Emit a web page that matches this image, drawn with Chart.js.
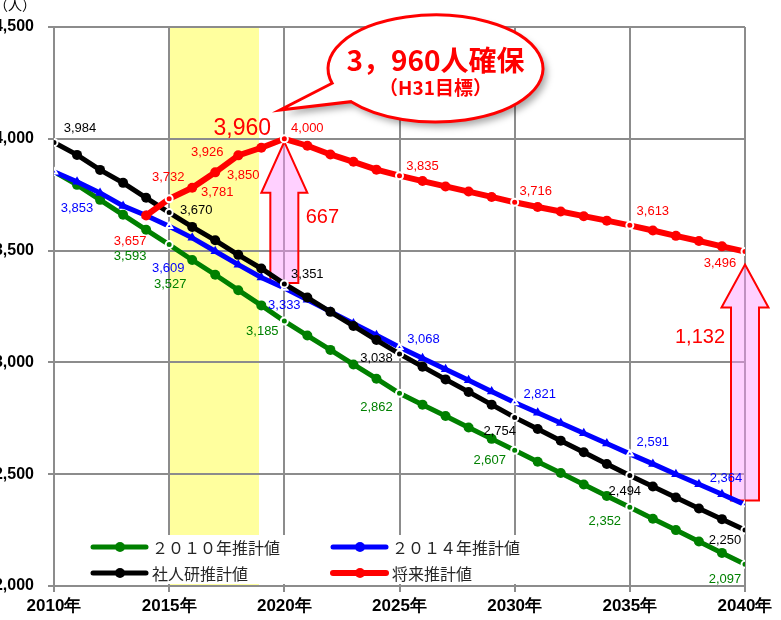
<!DOCTYPE html>
<html>
<head>
<meta charset="utf-8">
<script src="https://cdn.jsdelivr.net/npm/chart.js@4.4.1/dist/chart.umd.min.js"></script>
<style>
  html, body { margin: 0; padding: 0; background: #fff; }
  #wrap { position: relative; width: 781px; height: 620px; overflow: hidden; }
  #chart { position: absolute; left: -20px; top: 0; }
</style>
</head>
<body>
<div id="wrap"><canvas id="chart" width="801" height="620"></canvas></div>
<script>
// ---- data -------------------------------------------------------------
const years = [2010, 2011, 2012, 2013, 2014, 2015, 2016, 2017, 2018, 2019,
               2020, 2021, 2022, 2023, 2024, 2025, 2026, 2027, 2028, 2029,
               2030, 2031, 2032, 2033, 2034, 2035, 2036, 2037, 2038, 2039, 2040];

// 2010年推計値
const estimate2010 = [3853, 3794, 3727, 3660, 3593, 3527, 3458, 3392, 3323, 3255,
                      3185, 3120, 3056, 2991, 2927, 2862, 2811, 2760, 2709, 2658,
                      2607, 2556, 2505, 2454, 2403, 2352, 2301, 2250, 2199, 2148, 2097];
// 2014年推計値
const estimate2014 = [3853, 3808, 3758, 3700, 3657, 3609, 3557, 3497, 3437, 3380,
                      3333, 3280, 3227, 3174, 3121, 3068, 3019, 2969, 2920, 2870,
                      2821, 2775, 2729, 2683, 2637, 2591, 2546, 2500, 2455, 2410, 2364];
// 社人研推計値
const ipssEstimate = [3984, 3928, 3861, 3803, 3736, 3670, 3606, 3546, 3481, 3420,
                      3351, 3290, 3226, 3163, 3100, 3038, 2981, 2924, 2868, 2811,
                      2754, 2702, 2650, 2598, 2546, 2494, 2445, 2396, 2347, 2299, 2250];
// 将来推計値
const futureYears = [2014, 2015, 2016, 2017, 2018, 2019, 2020, 2021, 2022, 2023,
                     2024, 2025, 2026, 2027, 2028, 2029, 2030, 2031, 2032, 2033,
                     2034, 2035, 2036, 2037, 2038, 2039, 2040];
const futureEstimate = [3657, 3732, 3781, 3850, 3926, 3960, 4000, 3969, 3930, 3897,
                        3862, 3835, 3811, 3787, 3764, 3740, 3716, 3695, 3675, 3654,
                        3634, 3613, 3590, 3566, 3543, 3519, 3496];

const seriesNames = ['２０１０年推計値', '２０１４年推計値', '社人研推計値', '将来推計値'];
const yTicks = [2000, 2500, 3000, 3500, 4000, 4500];
const calloutLines = ['3，960人確保', '（H31目標）'];
const unitLabel = '（人）';

// ---- styling ----------------------------------------------------------
const SHIFT = 20;                 // canvas starts 20px left of the page edge
const P = v => v + SHIFT;         // page x -> canvas x
const GREEN = '#008000', BLUE = '#0000FF', BLACK = '#000000', RED = '#FF0000';
const GRID = '#8c8c8c';
const LATIN = "'Liberation Sans', Arial, sans-serif";
const CJK = "'Noto Sans CJK JP', 'Noto Sans', sans-serif";
const bandRange = [2015, 2018.9];
const fmt = n => n.toLocaleString('en-US');

// where each value label sits relative to its point: year -> [dx, dy(, size)]
const labelSpots = [
  { set: 3, color: GREEN, at: {2014: [-16, 27], 2015: [1, 40], 2020: [-22, 10], 2025: [-23, 14], 2030: [-25, 10], 2035: [-25, 14], 2040: [-20, 15]} },
  { set: 2, color: BLUE,  at: {2010: [23, 37], 2015: [-1, 42], 2020: [0, 17], 2025: [24, -8], 2030: [25, -8], 2035: [23, -11], 2040: [-19, -26]} },
  { set: 1, color: BLACK, at: {2010: [26, -14], 2015: [27, -2], 2020: [23, -9], 2025: [-23, 5], 2030: [-15, 14], 2035: [-5, 16], 2040: [-20, 10]} },
  { set: 0, color: RED,   at: {2014: [-16, 26], 2015: [-1, -21], 2016: [25, 5], 2017: [28, 3], 2018: [-31, -3], 2019: [-19, -19, 23],
                               2020: [23, -10], 2025: [23, -9], 2030: [21, -11], 2035: [23, -14], 2040: [-25, 12]} }
];

const pairs = (xs, ys) => xs.map((x, i) => ({ x, y: ys[i] }));
const isMilestone = ctx => ctx.raw && ctx.raw.x % 5 === 0;

function lineSet(label, data, color, width, shape) {
  return {
    label, data,
    borderColor: color, backgroundColor: color, borderWidth: width,
    tension: 0,
    pointStyle: shape,
    pointRadius: ctx => isMilestone(ctx) ? 3.5 : (shape === 'triangle' ? 5.5 : 5),
    pointBackgroundColor: color,
    pointBorderColor: ctx => isMilestone(ctx) ? '#ffffff' : color,
    pointBorderWidth: ctx => isMilestone(ctx) ? 2 : 0,
  };
}

function drawArrow(ctx, cx, tipY, bottomY, headLen, headHalf, shaftHalf) {
  ctx.beginPath();
  ctx.moveTo(cx, tipY);
  ctx.lineTo(cx + headHalf, tipY + headLen);
  ctx.lineTo(cx + shaftHalf, tipY + headLen);
  ctx.lineTo(cx + shaftHalf, bottomY);
  ctx.lineTo(cx - shaftHalf, bottomY);
  ctx.lineTo(cx - shaftHalf, tipY + headLen);
  ctx.lineTo(cx - headHalf, tipY + headLen);
  ctx.closePath();
  ctx.fillStyle = 'rgba(255, 150, 255, 0.45)';
  ctx.fill();
  ctx.strokeStyle = RED;
  ctx.lineWidth = 2;
  ctx.stroke();
}

const valueAt = (xs, ys, yr) => ys[xs.indexOf(yr)];

const decor = {
  id: 'decor',
  beforeDraw(chart) {
    const { ctx, chartArea: a, scales: { x } } = chart;
    ctx.save();
    ctx.fillStyle = '#ffffff';
    ctx.fillRect(0, 0, chart.width, chart.height);
    const x0 = x.getPixelForValue(bandRange[0]), x1 = x.getPixelForValue(bandRange[1]);
    ctx.fillStyle = '#FFFF9E';
    ctx.fillRect(x0, a.top, x1 - x0, a.bottom - a.top);
    ctx.restore();
  },
  beforeDatasetsDraw(chart) {
    const { ctx, scales: { x, y } } = chart;
    ctx.save();
    // gap between the 2020 target and the 2014 estimate
    const f20 = valueAt(futureYears, futureEstimate, 2020);
    const b20 = valueAt(years, estimate2014, 2020);
    const k20 = valueAt(years, ipssEstimate, 2020);
    const cx1 = x.getPixelForValue(2020);
    drawArrow(ctx, cx1, y.getPixelForValue(f20) + 3, y.getPixelForValue(k20) - 1, 51, 23, 14);
    // gap in 2040
    const f40 = valueAt(futureYears, futureEstimate, 2040);
    const b40 = valueAt(years, estimate2014, 2040);
    const cx2 = x.getPixelForValue(2040);
    drawArrow(ctx, cx2, y.getPixelForValue(f40) + 13, y.getPixelForValue(b40) - 4, 43, 23.5, 14);

    ctx.fillStyle = RED;
    ctx.font = `20px ${LATIN}`;
    ctx.textAlign = 'center';
    ctx.textBaseline = 'middle';
    const mid1 = (y.getPixelForValue(f20) + y.getPixelForValue(b20)) / 2;
    ctx.fillText(fmt(f20 - b20), cx1 + 38, mid1 + 4);
    const mid2 = (y.getPixelForValue(f40) + y.getPixelForValue(b40)) / 2;
    ctx.fillText(fmt(f40 - b40), cx2 - 45, mid2 - 41);
    ctx.restore();
  },
  afterDatasetsDraw(chart) {
    const { ctx } = chart;
    ctx.save();
    ctx.textAlign = 'center';
    ctx.textBaseline = 'middle';
    labelSpots.forEach(spec => {
      const meta = chart.getDatasetMeta(spec.set);
      const ds = chart.data.datasets[spec.set].data;
      Object.keys(spec.at).forEach(k => {
        const yr = +k;
        const idx = ds.findIndex(p => p.x === yr);
        if (idx < 0) return;
        const pt = meta.data[idx];
        const [dx, dy, size] = spec.at[k];
        ctx.font = `${size || 13}px ${LATIN}`;
        ctx.fillStyle = spec.color;
        ctx.fillText(fmt(ds[idx].y), pt.x + dx, pt.y + dy);
      });
    });
    ctx.restore();
  },
  afterDraw(chart) {
    const { ctx } = chart;
    ctx.save();

    // unit
    ctx.fillStyle = '#000';
    ctx.font = `14px ${CJK}`;
    ctx.textAlign = 'center';
    ctx.textBaseline = 'middle';
    ctx.fillText(unitLabel, P(15), 5);

    // legend box
    ctx.fillStyle = '#ffffff';
    ctx.fillRect(P(86), 535, 446, 49);
    const cols = [93, 333], rows = [547, 573];
    const items = [
      { name: seriesNames[0], color: GREEN, c: 0, r: 0, w: 5 },
      { name: seriesNames[1], color: BLUE,  c: 1, r: 0, w: 5 },
      { name: seriesNames[2], color: BLACK, c: 0, r: 1, w: 5 },
      { name: seriesNames[3], color: RED,   c: 1, r: 1, w: 6 },
    ];
    ctx.font = `16px ${CJK}`;
    ctx.textAlign = 'left';
    items.forEach(it => {
      const x0 = P(cols[it.c]), yy = rows[it.r];
      ctx.strokeStyle = it.color;
      ctx.lineWidth = it.w;
      ctx.lineCap = 'round';
      ctx.beginPath();
      ctx.moveTo(x0, yy);
      ctx.lineTo(x0 + 53, yy);
      ctx.stroke();
      ctx.fillStyle = it.color;
      ctx.beginPath();
      ctx.arc(x0 + 27, yy, 5, 0, Math.PI * 2);
      ctx.fill();
      ctx.fillStyle = '#262626';
      ctx.fillText(it.name, x0 + 59, yy + 1);
    });

    // speech bubble
    const cx = P(435.5), cy = 68.5, rx = 107.5, ry = 53.5;
    const a1 = 164 * Math.PI / 180, a2 = 141.7 * Math.PI / 180;
    const bubble = () => {
      ctx.beginPath();
      ctx.ellipse(cx, cy, rx, ry, 0, a1, a2, false);
      ctx.lineTo(P(280), 110);
      ctx.closePath();
    };
    ctx.save();
    ctx.shadowColor = 'rgba(0,0,0,0.35)';
    ctx.shadowBlur = 7;
    ctx.shadowOffsetX = 4;
    ctx.shadowOffsetY = 5;
    bubble();
    ctx.fillStyle = '#ffffff';
    ctx.fill();
    ctx.restore();
    bubble();
    ctx.strokeStyle = RED;
    ctx.lineWidth = 3;
    ctx.lineJoin = 'miter';
    ctx.stroke();

    ctx.fillStyle = RED;
    ctx.textAlign = 'center';
    ctx.textBaseline = 'middle';
    ctx.font = `bold 28px ${CJK}`;
    ctx.fillText(calloutLines[0], cx, 60);
    ctx.font = `bold 19px ${CJK}`;
    ctx.fillText(calloutLines[1], cx, 88);
    ctx.restore();
  }
};

new Chart(document.getElementById('chart'), {
  type: 'line',
  data: {
    datasets: [
      lineSet(seriesNames[3], pairs(futureYears, futureEstimate), RED, 6, 'circle'),
      lineSet(seriesNames[2], pairs(years, ipssEstimate), BLACK, 5, 'circle'),
      lineSet(seriesNames[1], pairs(years, estimate2014), BLUE, 5, 'triangle'),
      lineSet(seriesNames[0], pairs(years, estimate2010), GREEN, 5, 'circle'),
    ]
  },
  options: {
    responsive: false,
    animation: false,
    devicePixelRatio: 1,
    layout: { padding: { top: 27, right: 36, left: 0, bottom: 0 } },
    plugins: { legend: { display: false }, tooltip: { enabled: false } },
    scales: {
      x: {
        type: 'linear', min: 2010, max: 2040,
        afterFit(s) { s.height = 34; },
        ticks: { stepSize: 5, autoSkip: false, maxRotation: 0, padding: 4, color: '#000',
                 font: { family: LATIN, size: 17, weight: 'bold' },
                 callback: v => v + '年' },
        grid: { color: GRID, lineWidth: 2, tickLength: 6 },
        border: { color: GRID, width: 2 }
      },
      y: {
        min: yTicks[0], max: yTicks[yTicks.length - 1],
        afterFit(s) { s.width = 74; },
        afterBuildTicks(s) { s.ticks = yTicks.map(v => ({ value: v })); },
        ticks: { padding: 14, color: '#000',
                 font: { family: LATIN, size: 16, weight: 'bold' },
                 callback: v => fmt(v) },
        grid: { color: GRID, lineWidth: 2, tickLength: 6 },
        border: { color: GRID, width: 2 }
      }
    }
  },
  plugins: [decor]
});
</script>
</body>
</html>
